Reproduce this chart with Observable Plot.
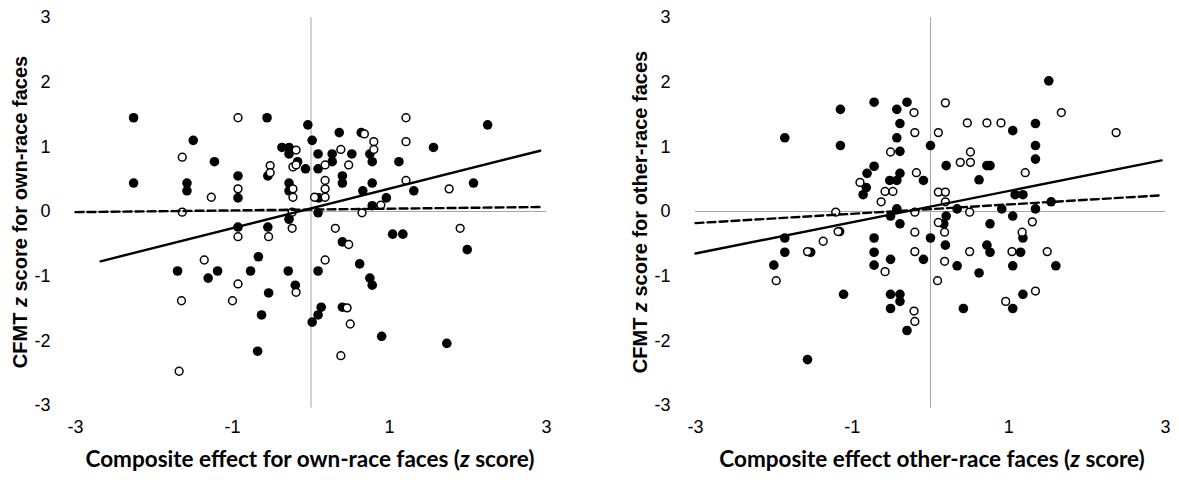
<!DOCTYPE html>
<html><head><meta charset="utf-8">
<script src="https://cdn.jsdelivr.net/npm/d3@7"></script>
<script src="https://cdn.jsdelivr.net/npm/@observablehq/plot@0.6"></script>
<style>
body{margin:0;background:#fff;}
#wrap{display:flex;width:1179px;height:480px;overflow:hidden;}
#wrap svg{display:block;flex:none;}
</style></head><body><div id="wrap"></div>
<script>
// Tick values
const xTicks = [-3, -1, 1, 3];
const yTicks = [-3, -2, -1, 0, 1, 2, 3];

// Own-race panel: filled circles
const ownFilledX = [-2.26,-0.56,-0.04,-1.50,0.015,-0.37,-0.28,-0.28,0.09,-1.23,-0.17,-0.07,0.09,-2.26,-1.58,-1.58,-0.93,-0.93,-0.55,-0.28,-0.28,-0.28,0.36,2.25,0.27,0.27,0.52,0.75,0.78,1.56,1.12,0.40,0.40,0.78,0.66,1.31,2.07,0.96,0.78,0.10,0.09,0.64,-0.93,-0.55,-0.67,-1.70,-1.31,-1.19,-0.77,-0.29,-0.20,-0.54,-0.63,-0.68,1.04,1.17,0.40,1.99,0.62,0.09,0.75,0.78,0.13,0.09,0.015,0.40,0.90,1.73];
const ownFilledY = [1.45,1.45,1.34,1.10,1.10,0.99,0.99,0.89,0.89,0.77,0.77,0.66,0.66,0.44,0.44,0.32,0.55,0.21,0.55,0.44,0.32,-0.12,1.22,1.34,0.89,0.77,0.89,0.89,0.77,0.99,0.77,0.55,0.44,0.44,0.32,0.32,0.44,0.21,0.09,0.21,-0.02,1.22,-0.24,-0.24,-0.70,-0.92,-1.03,-0.92,-0.92,-0.92,-1.14,-1.26,-1.60,-2.16,-0.35,-0.35,-0.47,-0.59,-0.81,-0.92,-1.03,-1.14,-1.48,-1.60,-1.71,-1.48,-1.93,-2.04];
// Own-race panel: open circles
const ownOpenX = [-0.93,-1.64,-0.19,-0.52,-0.52,-0.23,-0.19,-0.93,-1.27,-0.23,-0.23,0.045,-1.64,-0.24,1.21,0.68,0.80,1.21,0.38,0.80,0.18,0.48,0.18,0.18,0.18,1.21,1.76,0.89,0.65,-0.93,-0.54,-0.24,-1.36,-0.93,-0.19,-1.65,-1.00,-1.68,0.31,1.90,0.48,0.18,0.46,0.50,0.38];
const ownOpenY = [1.45,0.84,0.95,0.71,0.60,0.69,0.72,0.35,0.22,0.35,0.22,0.22,-0.01,-0.01,1.45,1.20,1.08,1.08,0.96,0.96,0.72,0.72,0.48,0.35,0.22,0.48,0.35,0.10,-0.02,-0.39,-0.39,-0.26,-0.75,-1.12,-1.25,-1.38,-1.38,-2.47,-0.26,-0.26,-0.51,-0.75,-1.49,-1.74,-2.23];
// Own-race trend lines (end points)
const ownSolidX = [-2.68, 2.92];
const ownSolidY = [-0.77, 0.94];
const ownDashX = [-3.0, 2.96];
const ownDashY = [-0.01, 0.07];

// Other-race panel: filled circles
const otherFilledX = [-1.86,-1.15,-1.15,-0.72,-0.30,-0.43,-0.39,-0.43,-0.39,0.00,-0.72,-0.81,-0.39,-0.52,-0.43,-0.09,-0.82,-0.86,-0.43,-0.51,1.51,1.34,1.05,1.34,1.34,0.20,0.72,0.76,0.62,1.08,1.18,1.54,0.34,0.91,1.34,0.20,1.05,-0.39,-1.86,-1.86,-2.00,-1.16,-1.53,-0.72,-0.72,-0.72,-0.51,0.00,-0.09,-1.11,-0.51,-0.39,-0.39,-0.51,-0.30,-1.57,0.17,0.76,0.19,0.72,0.76,1.15,1.18,0.34,1.05,1.60,0.62,1.18,0.42,1.05];
const otherFilledY = [1.14,1.58,1.02,1.69,1.69,1.58,1.36,1.14,0.93,1.02,0.70,0.59,0.59,0.48,0.48,0.48,0.37,0.26,0.04,-0.07,2.02,1.36,1.25,1.02,0.81,0.71,0.71,0.71,0.49,0.26,0.26,0.15,0.04,0.04,0.04,-0.07,-0.07,-0.19,-0.41,-0.63,-0.83,-0.31,-0.63,-0.41,-0.63,-0.83,-0.74,-0.41,-0.74,-1.28,-1.28,-1.28,-1.39,-1.50,-1.84,-2.29,-0.19,-0.19,-0.52,-0.52,-0.63,-0.63,-0.41,-0.84,-0.84,-0.84,-0.95,-1.28,-1.50,-1.50];
// Other-race panel: open circles
const otherOpenX = [-0.21,-0.20,0.10,-0.51,-0.18,-0.90,-0.58,-0.48,-0.63,0.10,-1.21,-0.20,0.19,0.47,0.72,0.90,1.67,2.37,0.51,0.38,0.51,1.21,0.19,0.19,0.50,1.30,-1.18,-1.37,-1.57,-0.20,-0.20,-0.58,-1.97,0.10,0.09,-0.21,-0.20,0.18,1.17,0.50,1.04,1.49,0.18,1.34,0.96];
const otherOpenY = [1.53,1.22,1.22,0.92,0.60,0.45,0.31,0.31,0.15,0.30,-0.01,-0.01,1.68,1.37,1.37,1.37,1.53,1.22,0.92,0.76,0.76,0.60,0.30,0.15,-0.01,-0.16,-0.31,-0.46,-0.62,-0.32,-0.62,-0.93,-1.07,-0.17,-1.07,-1.54,-1.70,-0.32,-0.32,-0.62,-0.62,-0.62,-0.77,-1.23,-1.39];
// Other-race trend lines (end points)
const otherSolidX = [-3.0, 2.95];
const otherSolidY = [-0.65, 0.79];
const otherDashX = [-3.0, 2.95];
const otherDashY = [-0.18, 0.25];

const zip = (xs, ys) => xs.map((x, i) => ({x, y: ys[i]}));
const fmt = d => String(d);

function panel(o) {
  const svg = Plot.plot({
    width: o.width, height: 480,
    marginLeft: o.marginLeft, marginRight: o.marginRight, marginTop: 17, marginBottom: 75,
    x: {domain: [-3, 3]},
    y: {domain: [-3, 3]},
    style: {fontFamily: "'Liberation Sans', Arial, sans-serif", fontSize: "18px", color: "#000", background: "#fff", overflow: "visible"},
    marks: [
      Plot.ruleY([0], {stroke: "#a6a6a6", strokeWidth: 1}),
      Plot.ruleX([0], {stroke: "#a6a6a6", strokeWidth: 1, y1: 3, y2: -3.04}),
      Plot.axisX({ticks: xTicks, tickFormat: fmt, tickSize: 0, tickPadding: 15, label: null, fill: "#000", fontSize: 18}),
      Plot.axisY({ticks: yTicks, tickFormat: fmt, tickSize: 0, tickPadding: 25, label: null, fill: "#000", fontSize: 18}),
      Plot.dot(zip(o.filledX, o.filledY), {x: "x", y: "y", r: 4.8, fill: "#000", stroke: "none"}),
      Plot.dot(zip(o.openX, o.openY), {x: "x", y: "y", r: 3.9, fill: "#fff", stroke: "#000", strokeWidth: 1.5}),
      Plot.line(zip(o.solidX, o.solidY), {x: "x", y: "y", stroke: "#000", strokeWidth: 2.4}),
      Plot.line(zip(o.dashX, o.dashY), {x: "x", y: "y", stroke: "#000", strokeWidth: 2.4, strokeDasharray: "8,4"})
    ]
  });
  const s = d3.select(svg);
  // x-axis title
  const xt = s.append("text")
    .attr("x", o.xTitleX).attr("y", 467)
    .attr("text-anchor", "middle")
    .style("font-family", "Lato, 'Open Sans', sans-serif")
    .style("font-weight", "700").style("font-size", "22.5px").style("fill", "#000");
  xt.append("tspan").text(o.xTitle[0]);
  xt.append("tspan").style("font-style", "italic").text("z");
  xt.append("tspan").text(o.xTitle[1]);
  // y-axis title
  const yt = s.append("text")
    .attr("transform", `translate(${o.yTitleX},${o.yTitleY}) rotate(-90)`)
    .attr("text-anchor", "middle")
    .style("font-family", "'Liberation Sans', Arial, sans-serif")
    .style("font-weight", "700").style("font-size", "20px").style("fill", "#000");
  yt.append("tspan").text(o.yTitle[0]);
  yt.append("tspan").style("font-style", "italic").text("z");
  yt.append("tspan").text(o.yTitle[1]);
  return svg;
}

const wrap = document.getElementById("wrap");
wrap.append(panel({
  width: 600, marginLeft: 75, marginRight: 54,
  filledX: ownFilledX, filledY: ownFilledY, openX: ownOpenX, openY: ownOpenY,
  solidX: ownSolidX, solidY: ownSolidY, dashX: ownDashX, dashY: ownDashY,
  xTitle: ["Composite effect for own-race faces (", " score)"], xTitleX: 310,
  yTitle: ["CFMT ", " score for own-race faces"], yTitleX: 27, yTitleY: 212
}));
wrap.append(panel({
  width: 579, marginLeft: 95, marginRight: 14,
  filledX: otherFilledX, filledY: otherFilledY, openX: otherOpenX, openY: otherOpenY,
  solidX: otherSolidX, solidY: otherSolidY, dashX: otherDashX, dashY: otherDashY,
  xTitle: ["Composite effect other-race faces (", " score)"], xTitleX: 332,
  yTitle: ["CFMT ", " score for other-race faces"], yTitleX: 47, yTitleY: 212
}));
</script></body></html>
